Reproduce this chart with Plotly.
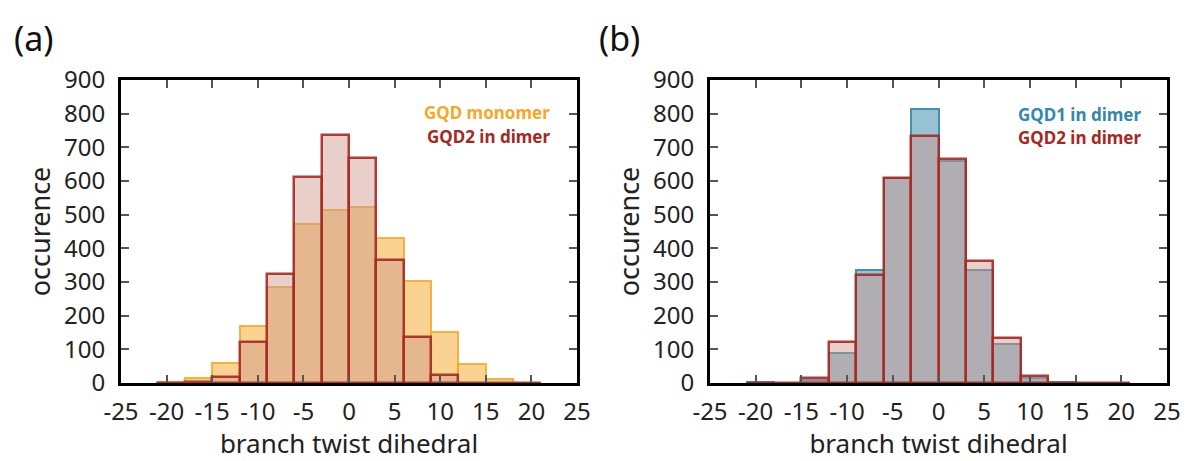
import plotly.graph_objects as go

# bin centres (bin width 3)
bins = [-19.5, -16.5, -13.5, -10.5, -7.5, -4.5, -1.5, 1.5, 4.5, 7.5, 10.5, 13.5, 16.5, 19.5]
monomer = [2, 14, 60, 169, 286, 472, 515, 524, 432, 303, 152, 55, 12, 0]
gqd2_a = [0, 2, 17, 121, 323, 613, 738, 667, 366, 136, 23, 0, 0, 0]
gqd1_b = [2, 0, 8, 88, 336, 609, 813, 660, 337, 115, 16, 2, 0, 0]
gqd2_b = [0, 0, 15, 121, 321, 608, 734, 665, 361, 133, 22, 0, 0, 0]
xticks = [-25, -20, -15, -10, -5, 0, 5, 10, 15, 20, 25]
xticklabels = ["-25", "-20", "-15", "-10", "-5", "0", "5", "10", "15", "20", "25"]
yticks = [0, 100, 200, 300, 400, 500, 600, 700, 800, 900]

ORANGE = "rgb(246,168,40)"
RED = "rgb(166,40,34)"
BLUE = "rgb(52,136,170)"
FONT = "Noto Sans"

fig = go.Figure()

def add_bars(vals, xa, ya, fill, line, lw):
    fig.add_trace(go.Bar(x=bins, y=vals, width=3, xaxis=xa, yaxis=ya,
                         marker=dict(color=fill, line=dict(color=line, width=lw)),
                         showlegend=False, hoverinfo="x+y"))

add_bars(monomer, "x", "y", "rgba(246,168,40,0.5)", "rgba(246,168,40,0.85)", 2)
add_bars(gqd2_a, "x", "y", "rgba(203,148,138,0.45)", "rgba(166,40,34,0.9)", 2.5)
add_bars(gqd1_b, "x2", "y2", "rgba(52,136,170,0.5)", "rgba(52,136,170,0.9)", 2)
add_bars(gqd2_b, "x2", "y2", "rgba(203,148,138,0.45)", "rgba(166,40,34,0.9)", 2.5)

xax = dict(range=[-25, 25], tickvals=xticks, ticktext=xticklabels, ticks="inside", ticklen=8, tickwidth=2,
           tickcolor="#555", showline=True, linecolor="black", linewidth=3, mirror="allticks",
           showgrid=False, zeroline=False, automargin=False, ticklabelstandoff=5,
           tickfont=dict(family=FONT, size=24, color="#222"),
           title=dict(text="branch twist dihedral", font=dict(family=FONT, size=26, color="#222"), standoff=10))
yax = dict(range=[0, 900], tickvals=yticks, ticks="inside", ticklen=8, tickwidth=2,
           tickcolor="#555", showline=True, linecolor="black", linewidth=3, mirror="allticks",
           showgrid=False, zeroline=False, automargin=False, ticklabelstandoff=8,
           domain=[1 - 383 / 461, 1 - 80 / 461],
           tickfont=dict(family=FONT, size=24, color="#222"),
           title=dict(text="occurence", font=dict(family=FONT, size=27, color="#222"), standoff=6))

fig.update_layout(
    width=1187, height=461, margin=dict(l=0, r=0, t=0, b=0),
    paper_bgcolor="white", plot_bgcolor="white", barmode="overlay", bargap=0,
    xaxis=dict(xax, domain=[121 / 1187, 577 / 1187], anchor="y"),
    yaxis=dict(yax, anchor="x"),
    xaxis2=dict(xax, domain=[710 / 1187, 1167 / 1187], anchor="y2"),
    yaxis2=dict(yax, anchor="x2"),
)

ann = [
    dict(text="(a)", x=12 / 1187, y=1 - 38 / 461, xanchor="left", yanchor="middle", size=34, color="#111"),
    dict(text="(b)", x=597 / 1187, y=1 - 38 / 461, xanchor="left", yanchor="middle", size=34, color="#111"),
    dict(text="<b>GQD monomer</b>", x=552 / 1187, y=1 - 112 / 461, xanchor="right", yanchor="middle", size=17, color=ORANGE),
    dict(text="<b>GQD2 in dimer</b>", x=552 / 1187, y=1 - 136 / 461, xanchor="right", yanchor="middle", size=17, color=RED),
    dict(text="<b>GQD1 in dimer</b>", x=1143 / 1187, y=1 - 114 / 461, xanchor="right", yanchor="middle", size=17, color=BLUE),
    dict(text="<b>GQD2 in dimer</b>", x=1143 / 1187, y=1 - 137 / 461, xanchor="right", yanchor="middle", size=17, color=RED),
]
for a in ann:
    fig.add_annotation(text=a["text"], x=a["x"], y=a["y"], xref="paper", yref="paper",
                       xanchor=a["xanchor"], yanchor=a["yanchor"], showarrow=False,
                       font=dict(family=FONT, size=a["size"], color=a["color"]))

fig.write_html("out.html")
